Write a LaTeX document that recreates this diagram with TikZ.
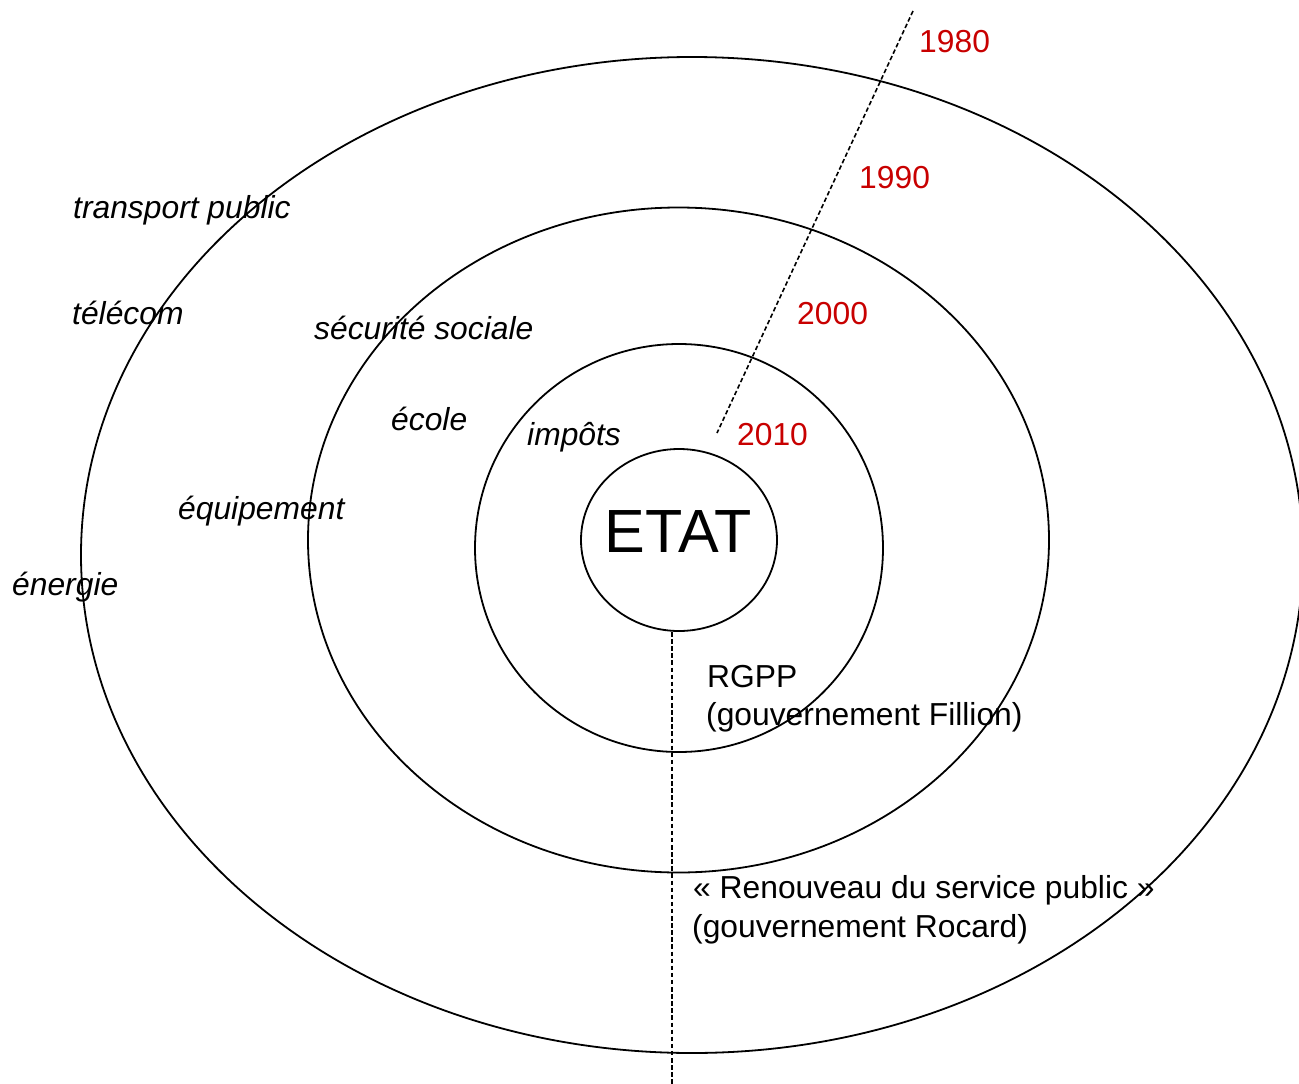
\documentclass[tikz,border=0pt]{standalone}
\usepackage{fontspec}
\setmainfont{Liberation Sans}
\definecolor{yearred}{RGB}{200,0,0}
\begin{document}
\begin{tikzpicture}[x=1pt,y=-1pt,
  ring/.style={line width=1.8pt},
  axis/.style={line width=1.6pt,dash pattern=on 4.5pt off 2.6pt},
  year/.style={anchor=base west,inner sep=0pt,text=yearred,font=\fontsize{31.8}{36}\selectfont},
  sector/.style={anchor=base west,inner sep=0pt,font=\fontsize{31.8}{36}\selectfont\itshape},
  note/.style={anchor=base west,inner sep=0pt,font=\fontsize{31.8}{36}\selectfont}]
\useasboundingbox (0,0) rectangle (1299,1084);
% rings
\draw[ring] (692,555) ellipse [x radius=611, y radius=498];
\draw[ring] (678.5,540) ellipse [x radius=370.5, y radius=332.5];
\draw[ring] (679,548) ellipse [x radius=204, y radius=204];
\draw[ring] (679,540) ellipse [x radius=98, y radius=91];
\node[anchor=base,inner sep=0pt,font=\fontsize{61}{68}\selectfont] (etat) at (678,552) {ETAT};
% axes
\coordinate (ta) at (913,11);
\coordinate (tb) at (717,433);
\coordinate (ba) at (672,632);
\coordinate (bb) at (672,1090);
\draw[axis] (ta) -- (tb);
\draw[axis] (ba) -- (bb);
% years
\node[year] (y1980) at (919,52) {1980};
\node[year] (y1990) at (859,188) {1990};
\node[year] (y2000) at (797,324) {2000};
\node[year] (y2010) at (737,445) {2010};
% sectors
\node[sector] (transport) at (73,218) {transport public};
\node[sector] (telecom) at (72,324) {télécom};
\node[sector] (secu) at (314,339) {sécurité sociale};
\node[sector] (ecole) at (391,430) {école};
\node[sector] (impots) at (527,445) {impôts};
\node[sector] (equip) at (178,519) {équipement};
\node[sector] (energie) at (12,595) {énergie};
% notes
\node[note] (rgpp) at (707,687) {RGPP};
\node[note] (fillion) at (706,725) {(gouvernement Fillion)};
\node[note] (renouveau) at (693,898) {« Renouveau du service public »};
\node[note] (rocard) at (692,937) {(gouvernement Rocard)};
\end{tikzpicture}
\end{document}
